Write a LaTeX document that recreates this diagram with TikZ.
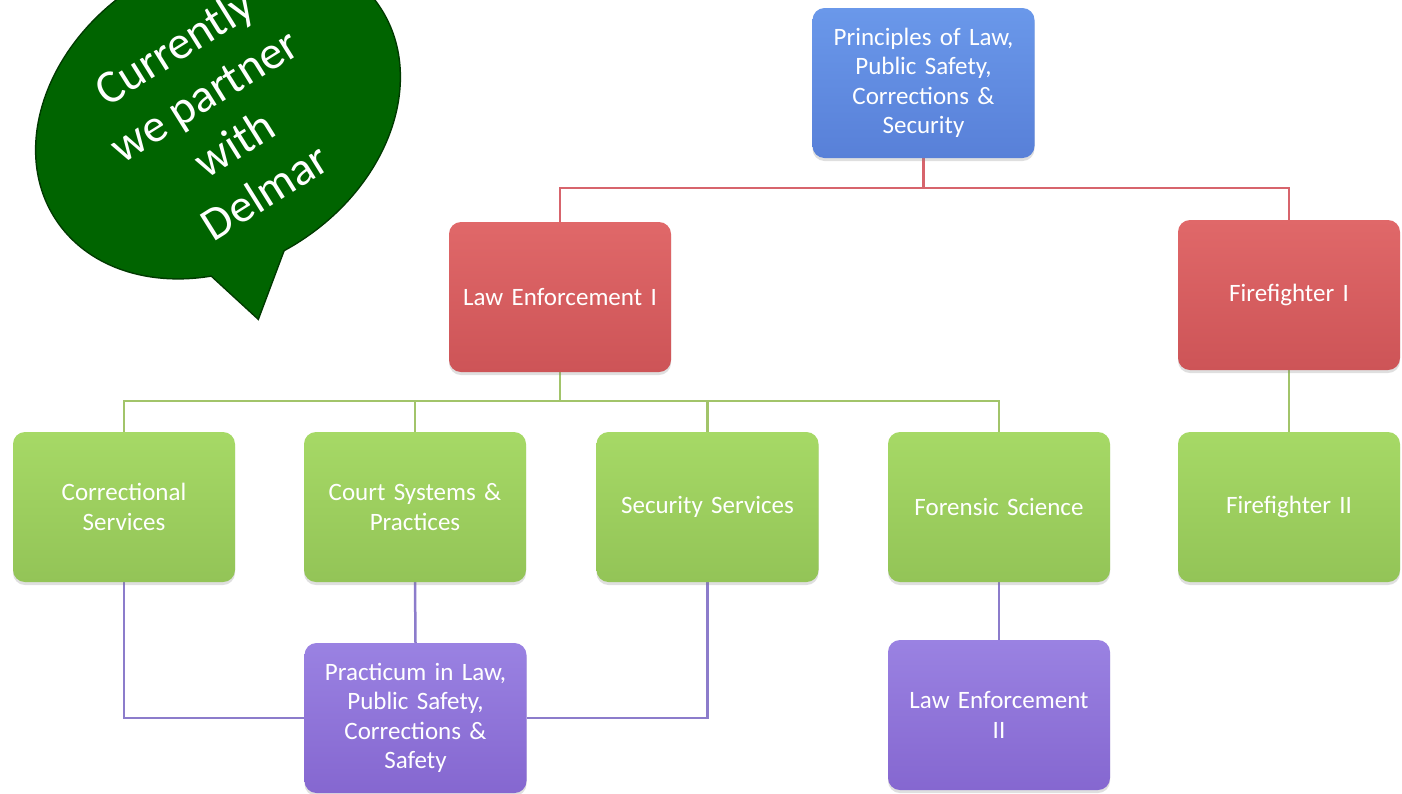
\documentclass[tikz,border=0pt]{standalone}
\usepackage{fontspec}
\setmainfont{Carlito}
\usetikzlibrary{shadows,backgrounds}
\definecolor{bubblegreen}{HTML}{006400}
\definecolor{bubbleedge}{HTML}{003A00}
\definecolor{bluetop}{HTML}{6A98EA}
\definecolor{bluebot}{HTML}{5880D8}
\definecolor{redtop}{HTML}{E06869}
\definecolor{redbot}{HTML}{CD5457}
\definecolor{greentop}{HTML}{A6D966}
\definecolor{greenbot}{HTML}{93C457}
\definecolor{purptop}{HTML}{9A82E2}
\definecolor{purpbot}{HTML}{8567D0}
\definecolor{redline}{HTML}{D7646C}
\definecolor{greenline}{HTML}{A2C46A}
\definecolor{purpline}{HTML}{8C7CCB}
\tikzset{
  box/.style={rounded corners=12pt, minimum width=222, minimum height=150,
    text width=210, align=center, text=white,
    font=\fontsize{25}{29.5}\selectfont,
    drop shadow={shadow xshift=0pt, shadow yshift=-3pt, opacity=0.25}},
  bluebox/.style={box, top color=bluetop, bottom color=bluebot},
  redbox/.style={box, top color=redtop, bottom color=redbot},
  greenbox/.style={box, top color=greentop, bottom color=greenbot},
  purpbox/.style={box, top color=purptop, bottom color=purpbot},
  conn/.style={line width=2.5pt},
}
\begin{document}
\begin{tikzpicture}[x=1pt,y=-1pt]
\useasboundingbox (0,0) rectangle (1402,793);

% boxes
\node[bluebox] (top) at (923.5,83) {Principles of Law,\\ Public Safety,\\ Corrections \&\\ Security};
\node[redbox] (le1) at (560,297) {Law Enforcement I};
\node[redbox] (ff1) at (1289,295) {Firefighter I};
\node[greenbox] (cs) at (124,507) {Correctional\\ Services};
\node[greenbox] (csp) at (415,507) {Court Systems \&\\ Practices};
\node[greenbox] (ss) at (707.5,507) {Security Services};
\node[greenbox] (fs) at (999,507) {Forensic Science};
\node[greenbox] (ff2) at (1289,507) {Firefighter II};
\node[purpbox] (prac) at (415.5,718) {Practicum in Law,\\ Public Safety,\\ Corrections \&\\ Safety};
\node[purpbox] (le2) at (999,715) {Law Enforcement\\ II};

\coordinate (rb) at (923.5,188);
\coordinate (gb) at (560,401);

\begin{scope}[on background layer]
\fill[white] (0,0) rectangle (1402,793);
\draw[conn, redline] (top.south) -- (rb);
\draw[conn, redline] (le1.north) |- (rb);
\draw[conn, redline] (ff1.north) |- (rb);
\draw[conn, greenline] (le1.south) -- (gb);
\draw[conn, greenline] (cs.north) |- (gb);
\draw[conn, greenline] (csp.north) |- (gb);
\draw[conn, greenline] (ss.north) |- (gb);
\draw[conn, greenline] (fs.north) |- (gb);
\draw[conn, greenline] (ff1.south) -- (ff2.north);
\draw[conn, purpline] (cs.south) |- (prac.west);
\draw[conn, purpline] (ss.south) |- (prac.east);
\draw[conn, purpline] (csp.south) -- (prac.north);
\draw[conn, purpline] (fs.south) -- (le2.north);
\end{scope}

% speech bubble
\coordinate (bc) at (218,113.5);
\coordinate (tl) at (208,272);
\coordinate (tip) at (258,318);
\coordinate (tr) at (285,246);
\draw[bubbleedge, line width=3pt, rotate around={33:(bc)}] (bc) ellipse [x radius=193, y radius=151];
\draw[bubbleedge, line width=3pt, line join=miter] (tl) -- (tip) -- (tr);
\fill[bubblegreen, rotate around={33:(bc)}] (bc) ellipse [x radius=193, y radius=151];
\fill[bubblegreen] (tl) -- (tip) -- (tr) -- cycle;
\node[text=white, rotate=32, align=center, font=\fontsize{47}{57}\selectfont] (btext) at (219,119) {Currently\\ we partner\\ with\\ Delmar};
\end{tikzpicture}
\end{document}
